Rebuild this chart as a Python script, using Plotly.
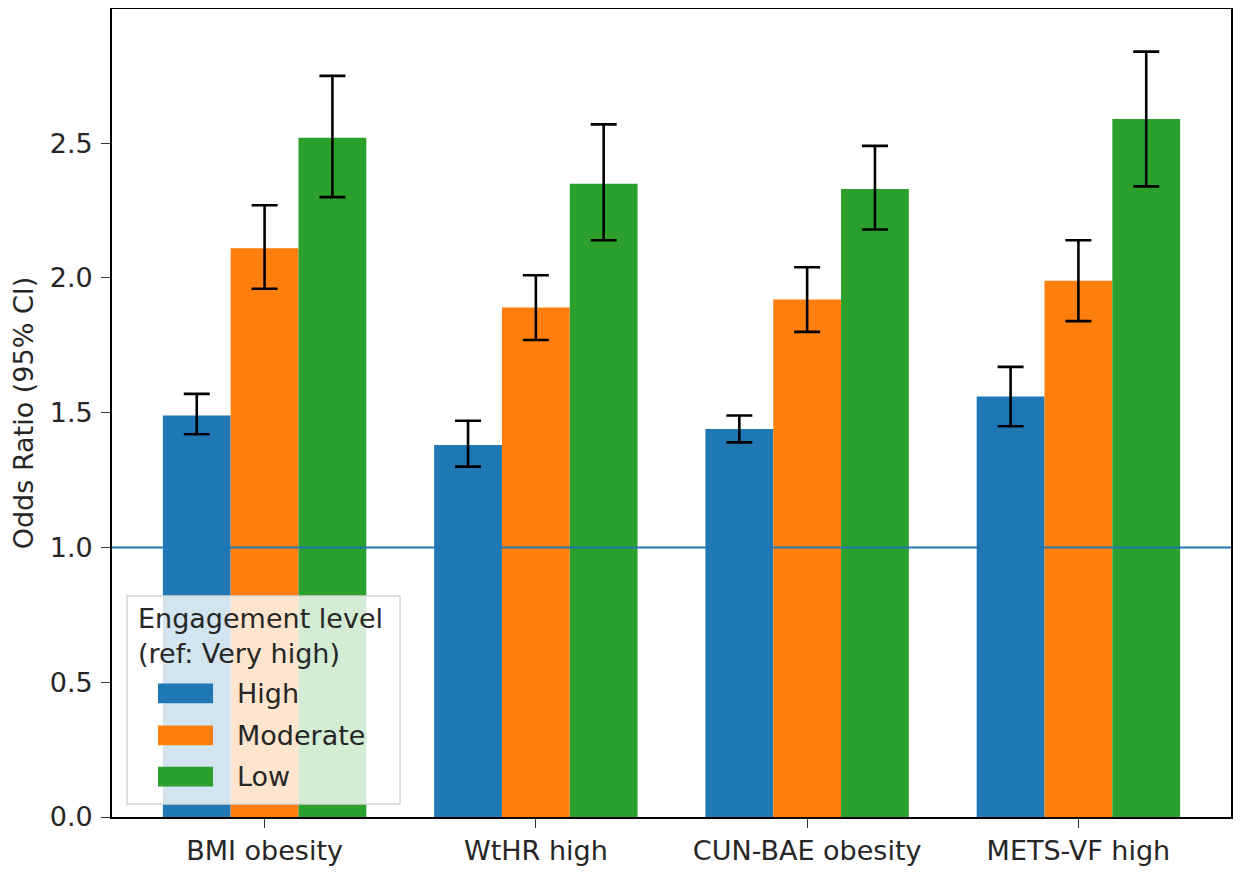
import plotly.graph_objects as go

categories = ["BMI obesity", "WtHR high", "CUN-BAE obesity", "METS-VF high"]
levels = ["High", "Moderate", "Low"]
colors = ["#1f77b4", "#ff7f0e", "#2ca02c"]

or_high = [1.49, 1.38, 1.44, 1.56]
lo_high = [1.42, 1.30, 1.39, 1.45]
hi_high = [1.57, 1.47, 1.49, 1.67]

or_mod = [2.11, 1.89, 1.92, 1.99]
lo_mod = [1.96, 1.77, 1.80, 1.84]
hi_mod = [2.27, 2.01, 2.04, 2.14]

or_low = [2.52, 2.35, 2.33, 2.59]
lo_low = [2.30, 2.14, 2.18, 2.34]
hi_low = [2.75, 2.57, 2.49, 2.84]

ref_value = 1.0
y_ticks = [0.0, 0.5, 1.0, 1.5, 2.0, 2.5]
legend_title = "Engagement level<br>(ref: Very high)"

series = [
    (or_high, lo_high, hi_high),
    (or_mod, lo_mod, hi_mod),
    (or_low, lo_low, hi_low),
]

FONT = "DejaVu Sans"
FS = 27
TXT = "#262626"

fig = go.Figure()
xi = list(range(len(categories)))
for name, color, (vals, lo, hi) in zip(levels, colors, series):
    fig.add_trace(go.Bar(
        x=xi, y=vals, name=name,
        marker=dict(color=color, line=dict(width=0)),
        error_y=dict(
            type="data", symmetric=False,
            array=[h - v for h, v in zip(hi, vals)],
            arrayminus=[v - l for v, l in zip(vals, lo)],
            color="black", thickness=2.6, width=13,
        ),
        showlegend=False,
    ))

# reference line
fig.add_hline(y=ref_value, line=dict(color="#1f77b4", width=2.2), layer="above")

# custom matplotlib-like legend
lx0, lx1, ly0, ly1 = 0.0134, 0.2574, 0.0161, 0.2735
fig.add_shape(type="rect", xref="paper", yref="paper", x0=lx0, x1=lx1, y0=ly0, y1=ly1,
              fillcolor="rgba(255,255,255,0.8)", line=dict(color="#d5d5d5", width=1.5),
              layer="above")
fig.add_annotation(xref="paper", yref="paper", x=0.0215, y=0.267, xanchor="left", yanchor="top",
                   text=legend_title, showarrow=False, align="left",
                   font=dict(family=FONT, size=FS, color=TXT))
item_y = [0.153, 0.101, 0.050]
for name, color, yy in zip(levels, colors, item_y):
    fig.add_shape(type="rect", xref="paper", yref="paper",
                  x0=0.0411, x1=0.0903, y0=yy - 0.0121, y1=yy + 0.0121,
                  fillcolor=color, line=dict(width=0), layer="above")
    fig.add_annotation(xref="paper", yref="paper", x=0.1095, y=yy, xanchor="left", yanchor="middle",
                       text=name, showarrow=False,
                       font=dict(family=FONT, size=FS, color=TXT))

# page body has an 8px default margin, so the figure is sized/offset to compensate
fig.update_layout(
    width=1234, height=864,
    margin=dict(l=104, r=11, t=1, b=55),
    barmode="group", bargap=0.25, bargroupgap=0,
    plot_bgcolor="white", paper_bgcolor="white",
    font=dict(family=FONT, size=FS, color=TXT),
    showlegend=False,
)
fig.update_xaxes(
    range=[-0.5625, 3.5625], tickmode="array", tickvals=xi, ticktext=categories,
    showline=True, linecolor="black", linewidth=1.6, mirror=True,
    ticks="outside", ticklen=9, tickwidth=1.4, tickcolor="#333",
    showgrid=False, zeroline=False, tickfont=dict(size=FS), automargin=False,
)
fig.update_yaxes(
    range=[0, 2.998], tickmode="array", tickvals=y_ticks, tickformat=".1f",
    showline=True, linecolor="black", linewidth=1.6, mirror=True,
    ticks="outside", ticklen=9, tickwidth=1.4, tickcolor="#333",
    showgrid=False, zeroline=False, tickfont=dict(size=FS), automargin=False,
    ticklabelstandoff=3,
    title=dict(text="Odds Ratio (95% CI)", standoff=14, font=dict(size=FS)),
)

fig.write_html("out.html")
